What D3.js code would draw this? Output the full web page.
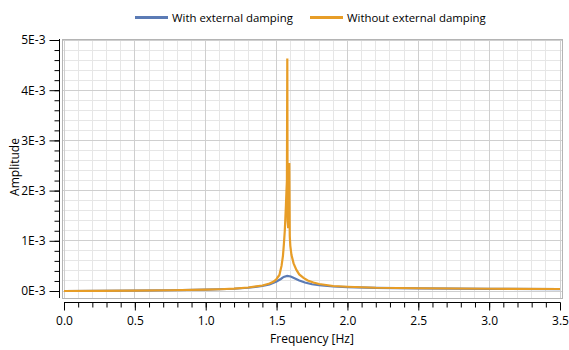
<!DOCTYPE html>
<html>
<head>
<meta charset="utf-8">
<script src="https://cdn.jsdelivr.net/npm/d3@7"></script>
<style>
  html, body { margin: 0; padding: 0; background: #fff; }
  svg { display: block; font-family: "Open Sans", "Noto Sans", sans-serif; }
</style>
</head>
<body>
<svg id="chart" width="569" height="350"></svg>
<script>
// ---- data (amplitudes in units of 1E-3) ----
const seriesNames = ["With external damping", "Without external damping"];
const seriesColors = ["#5b7bb5", "#e79d27"];

const dampedFreq = [0.0, 0.25, 0.5, 0.75, 1.0, 1.1, 1.2, 1.3, 1.35, 1.4, 1.45, 1.5, 1.53, 1.55, 1.575, 1.6, 1.63, 1.66, 1.7, 1.75, 1.8, 1.9, 2.0, 2.2, 2.5, 3.0, 3.5];
const dampedAmp  = [0.0, 0.003, 0.008, 0.015, 0.028, 0.035, 0.045, 0.065, 0.08, 0.10, 0.13, 0.19, 0.24, 0.28, 0.30, 0.29, 0.25, 0.21, 0.17, 0.135, 0.115, 0.09, 0.078, 0.062, 0.052, 0.043, 0.038];

const undampedFreq = [0.0, 0.25, 0.5, 0.75, 1.0, 1.1, 1.2, 1.3, 1.4, 1.45, 1.48, 1.5, 1.52, 1.535, 1.545, 1.552, 1.558, 1.562, 1.566, 1.570, 1.573, 1.5757, 1.578, 1.582, 1.586, 1.590, 1.593, 1.597, 1.605, 1.62, 1.64, 1.66, 1.69, 1.72, 1.76, 1.8, 1.9, 2.0, 2.2, 2.5, 3.0, 3.5];
const undampedAmp  = [0.0, 0.003, 0.008, 0.015, 0.028, 0.035, 0.046, 0.07, 0.11, 0.15, 0.19, 0.24, 0.32, 0.50, 0.70, 0.95, 1.2, 1.45, 1.7, 2.0, 2.2, 4.63, 1.4, 1.25, 1.6, 2.55, 1.1, 0.9, 0.72, 0.55, 0.42, 0.33, 0.26, 0.21, 0.17, 0.14, 0.10, 0.085, 0.065, 0.055, 0.045, 0.04];

const xTickValues = [0, 0.5, 1, 1.5, 2, 2.5, 3, 3.5];
const xTickLabels = ["0.0", "0.5", "1.0", "1.5", "2.0", "2.5", "3.0", "3.5"];
const yTickValues = [0, 1, 2, 3, 4, 5];
const yTickLabels = ["0E-3", "1E-3", "2E-3", "3E-3", "4E-3", "5E-3"];
const xTitle = "Frequency [Hz]";
const yTitle = "Amplitude";

// ---- layout ----
const svg = d3.select("#chart");
const x = d3.scaleLinear().domain([0, 3.5]).range([64, 560]);
const y = d3.scaleLinear().domain([0, 5]).range([291, 40]);
const plotTop = 39, plotBottom = 298, plotLeft = 62, plotRight = 562;

// minor grid
const xMinor = d3.range(0, 3.5001, 0.1);
const yMinor = d3.range(0, 5.0001, 0.2);
const grid = svg.append("g");
grid.selectAll(".xm").data(xMinor).join("line")
  .attr("x1", d => x(d)).attr("x2", d => x(d))
  .attr("y1", plotTop).attr("y2", plotBottom)
  .attr("stroke", "#e6e6e6").attr("stroke-width", 1).attr("shape-rendering", "crispEdges");
grid.selectAll(".ym").data(yMinor).join("line")
  .attr("x1", plotLeft).attr("x2", plotRight)
  .attr("y1", d => y(d)).attr("y2", d => y(d))
  .attr("stroke", "#e6e6e6").attr("stroke-width", 1).attr("shape-rendering", "crispEdges");
// major grid
grid.selectAll(".xM").data(xTickValues).join("line")
  .attr("x1", d => x(d)).attr("x2", d => x(d))
  .attr("y1", plotTop).attr("y2", plotBottom)
  .attr("stroke", "#cfcfcf").attr("stroke-width", 1).attr("shape-rendering", "crispEdges");
grid.selectAll(".yM").data(yTickValues).join("line")
  .attr("x1", plotLeft).attr("x2", plotRight)
  .attr("y1", d => y(d)).attr("y2", d => y(d))
  .attr("stroke", "#cfcfcf").attr("stroke-width", 1).attr("shape-rendering", "crispEdges");
// frame
svg.append("rect")
  .attr("x", plotLeft + 0.5).attr("y", plotTop + 0.5)
  .attr("width", plotRight - plotLeft).attr("height", plotBottom - plotTop)
  .attr("fill", "none").attr("stroke", "#b4b4b4");

// ---- series ----
const line = d3.line().x(d => x(d[0])).y(d => y(d[1]));
const dampedData = dampedFreq.map((f, i) => [f, dampedAmp[i]]);
const undampedData = undampedFreq.map((f, i) => [f, undampedAmp[i]]);
svg.append("path").datum(dampedData)
  .attr("d", line).attr("fill", "none")
  .attr("stroke", seriesColors[0]).attr("stroke-width", 2.2);
svg.append("path").datum(undampedData)
  .attr("d", line).attr("fill", "none")
  .attr("stroke", seriesColors[1]).attr("stroke-width", 2.2).attr("stroke-linejoin", "miter");

// ---- axes ----
const xAxisG = svg.append("g").attr("transform", "translate(0,302.5)");
xAxisG.append("line").attr("x1", x(0)).attr("x2", x(3.5)).attr("y1", 0).attr("y2", 0).attr("stroke", "#000");
xAxisG.call(d3.axisBottom(x).tickValues(xMinor).tickSize(5).tickFormat(""))
  .call(g => g.select(".domain").remove());
const xMajor = svg.append("g").attr("transform", "translate(0,302.5)")
  .call(d3.axisBottom(x).tickValues(xTickValues).tickSize(8).tickPadding(6)
    .tickFormat((d, i) => xTickLabels[i]));
xMajor.select(".domain").remove();
xMajor.selectAll("text").attr("font-size", 12).attr("fill", "#000").attr("font-family", "Open Sans, Noto Sans, sans-serif");

const yAxisG = svg.append("g").attr("transform", "translate(59.5,0)");
yAxisG.append("line").attr("x1", 0).attr("x2", 0).attr("y1", plotTop).attr("y2", plotBottom).attr("stroke", "#000");
yAxisG.call(d3.axisLeft(y).tickValues(yMinor).tickSize(5).tickFormat(""))
  .call(g => g.select(".domain").remove());
const yMajor = svg.append("g").attr("transform", "translate(59.5,0)")
  .call(d3.axisLeft(y).tickValues(yTickValues).tickSize(10).tickPadding(4)
    .tickFormat((d, i) => yTickLabels[i]));
yMajor.select(".domain").remove();
yMajor.selectAll("text").attr("font-size", 12).attr("fill", "#000").attr("font-family", "Open Sans, Noto Sans, sans-serif");

// titles
svg.append("text").attr("x", 312).attr("y", 343)
  .attr("text-anchor", "middle").attr("font-size", 12).text(xTitle);
svg.append("text").attr("transform", "translate(19,167) rotate(-90)")
  .attr("text-anchor", "middle").attr("font-size", 12).text(yTitle);

// legend
const legendItems = [
  { name: seriesNames[0], color: seriesColors[0], x0: 135 },
  { name: seriesNames[1], color: seriesColors[1], x0: 310 }
];
const lg = svg.append("g");
legendItems.forEach(it => {
  lg.append("line").attr("x1", it.x0).attr("x2", it.x0 + 33).attr("y1", 17.5).attr("y2", 17.5)
    .attr("stroke", it.color).attr("stroke-width", 3);
  lg.append("text").attr("x", it.x0 + 37).attr("y", 22).attr("font-size", 11.4).text(it.name);
});
</script>
</body>
</html>
